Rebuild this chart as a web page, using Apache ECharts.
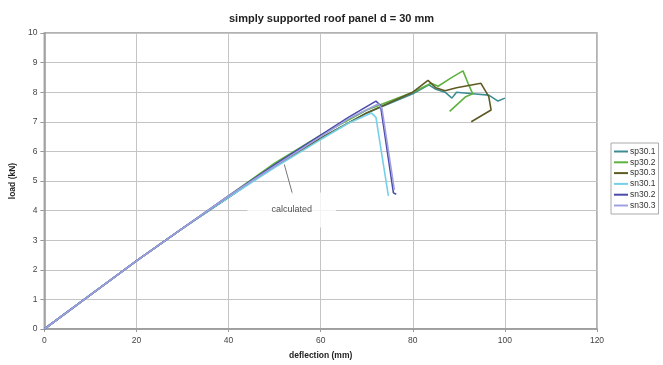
<!DOCTYPE html>
<html>
<head>
<meta charset="utf-8">
<script src="https://cdn.jsdelivr.net/npm/echarts@6/dist/echarts.min.js"></script>
<style>
    html, body { margin: 0; padding: 0; background: #fff; }
    #chart { width: 663px; height: 365px; }
</style>
</head>
<body>
<div id="chart"></div>
<script>
    // deflection (mm) / load (kN)
    var names = ['sp30.1', 'sp30.2', 'sp30.3', 'sn30.1', 'sn30.2', 'sn30.3'];
    var colors = ['#3e8c93', '#5db33d', '#5f5a24', '#74d0e8', '#4b4bab', '#a0a0e0'];

    var sp301X = [0, 10, 20, 30, 40, 50, 60, 70, 80, 83.5, 85, 87, 88.5, 89.5, 93, 96.5, 98.5, 100];
    var sp301Y = [0, 1.15, 2.3, 3.4, 4.45, 5.5, 6.45, 7.3, 7.95, 8.25, 8.1, 8.0, 7.8, 8.0, 7.95, 7.9, 7.7, 7.8];
    var sp302X = [0, 10, 20, 30, 40, 50, 60, 70, 80, 84, 85.5, 88.5, 90.9, 92, 93, 91.5, 88];
    var sp302Y = [0, 1.15, 2.3, 3.4, 4.5, 5.6, 6.55, 7.4, 8.0, 8.3, 8.2, 8.5, 8.72, 8.3, 7.95, 7.85, 7.35];
    var sp303X = [0, 10, 20, 30, 40, 50, 60, 70, 80, 83.3, 85, 87, 89.5, 94.8, 96.5, 97, 92.7];
    var sp303Y = [0, 1.15, 2.3, 3.4, 4.45, 5.5, 6.45, 7.3, 8.0, 8.4, 8.15, 8.05, 8.15, 8.3, 7.85, 7.4, 7.0];
    var sn301X = [0, 10, 20, 30, 40, 50, 60, 66, 71, 72, 74.7];
    var sn301Y = [0, 1.15, 2.3, 3.4, 4.45, 5.45, 6.4, 6.95, 7.3, 7.15, 4.5];
    var sn302X = [0, 10, 20, 30, 40, 50, 60, 66, 72, 73, 75.8, 76.4];
    var sn302Y = [0, 1.15, 2.3, 3.4, 4.5, 5.55, 6.55, 7.15, 7.7, 7.55, 4.6, 4.55];
    var sn303X = [0, 10, 20, 30, 40, 50, 60, 66, 72.5, 73.3, 76];
    var sn303Y = [0, 1.15, 2.3, 3.4, 4.5, 5.5, 6.5, 7.1, 7.6, 7.45, 4.7];

    // "calculated" note: leader line and label position
    var noteLineX = [52.1, 53.9];
    var noteLineY = [5.56, 4.55];
    var noteLabelX = 53.7;
    var noteLabelY = 4.02;

    function pairs(xs, ys) {
        return xs.map(function (x, i) { return [x, ys[i]]; });
    }

    var seriesData = [
        pairs(sp301X, sp301Y),
        pairs(sp302X, sp302Y),
        pairs(sp303X, sp303Y),
        pairs(sn301X, sn301Y),
        pairs(sn302X, sn302Y),
        pairs(sn303X, sn303Y)
    ];

    var series = names.map(function (n, i) {
        return {
            name: n,
            type: 'line',
            data: seriesData[i],
            showSymbol: false,
            symbol: 'none',
            lineStyle: { color: colors[i], width: 1.6 },
            itemStyle: { color: colors[i] },
            z: 3
        };
    });

    series.push({
        name: 'note',
        type: 'line',
        data: pairs(noteLineX, noteLineY),
        showSymbol: false,
        symbol: 'none',
        lineStyle: { color: '#777', width: 1 },
        silent: true,
        z: 2
    });
    series.push({
        name: 'noteLabel',
        type: 'scatter',
        data: [[noteLabelX, noteLabelY]],
        symbolSize: 0,
        silent: true,
        z: 2,
        label: {
            show: true,
            position: 'inside',
            formatter: 'calculated',
            fontFamily: 'Liberation Sans, Arial, sans-serif',
            fontSize: 9,
            color: '#222',
            backgroundColor: '#fff',
            padding: [10, 24, 16, 24]
        }
    });

    var chart = echarts.init(document.getElementById('chart'));
    chart.setOption({
        animation: false,
        backgroundColor: '#fff',
        textStyle: { fontFamily: 'Liberation Sans, Arial, sans-serif' },
        title: {
            text: 'simply supported roof panel d = 30 mm',
            left: 'center',
            top: 8,
            textStyle: { fontSize: 11, fontWeight: 'bold', color: '#222' }
        },
        legend: {
            data: names,
            orient: 'vertical',
            left: 611,
            top: 143,
            icon: 'rect',
            itemWidth: 14,
            itemHeight: 2,
            itemGap: 1.8,
            padding: [4, 3, 4, 3],
            borderColor: '#aaa',
            borderWidth: 1,
            textStyle: { fontSize: 8.5, color: '#333', padding: [0, 0, 0, -3] }
        },
        grid: {
            left: 40,
            right: 66,
            top: 33,
            bottom: 35,
            show: true,
            borderColor: '#999',
            borderWidth: 1.5
        },
        xAxis: {
            type: 'value',
            min: 0,
            max: 120,
            interval: 20,
            name: 'deflection (mm)',
            nameLocation: 'middle',
            nameGap: 22,
            nameTextStyle: { fontSize: 8.5, fontWeight: 'bold', color: '#222' },
            axisLine: { lineStyle: { color: '#999', width: 1.5 } },
            axisTick: { show: true, length: 3, lineStyle: { color: '#999' } },
            axisLabel: { fontSize: 8.5, color: '#444', margin: 7 },
            splitLine: { lineStyle: { color: '#c4c4c4', width: 1 } }
        },
        yAxis: {
            type: 'value',
            min: 0,
            max: 10,
            interval: 1,
            name: 'load (kN)',
            nameLocation: 'middle',
            nameGap: 25,
            nameTextStyle: { fontSize: 8.5, fontWeight: 'bold', color: '#222' },
            axisLine: { show: true, lineStyle: { color: '#999', width: 1.5 } },
            axisTick: { show: true, length: 4, lineStyle: { color: '#999' } },
            axisLabel: { fontSize: 8.5, color: '#444', margin: 7 },
            splitLine: { lineStyle: { color: '#c4c4c4', width: 1 } }
        },
        series: series
    });
</script>
</body>
</html>
